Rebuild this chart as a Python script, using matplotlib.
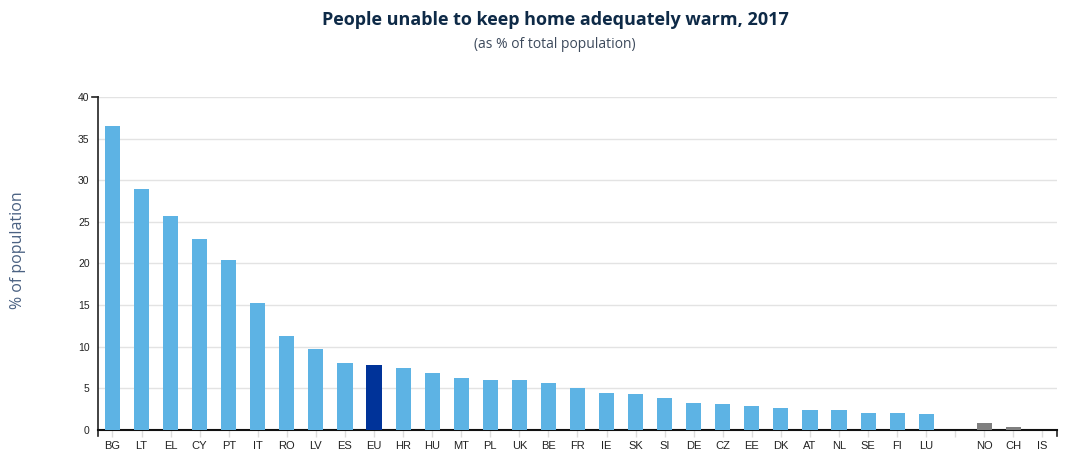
import numpy as np
import matplotlib.pyplot as plt

# countries in display order; "" marks the gap between EU members and EFTA
countries = ["BG", "LT", "EL", "CY", "PT", "IT", "RO", "LV", "ES", "EU", "HR", "HU",
             "MT", "PL", "UK", "BE", "FR", "IE", "SK", "SI", "DE", "CZ", "EE", "DK",
             "AT", "NL", "SE", "FI", "LU", "", "NO", "CH", "IS"]
values = [36.5, 28.9, 25.7, 22.9, 20.4, 15.2, 11.3, 9.7, 8.0, 7.8, 7.4, 6.8,
          6.3, 6.0, 6.0, 5.7, 5.0, 4.4, 4.3, 3.9, 3.3, 3.1, 2.9, 2.7,
          2.4, 2.4, 2.1, 2.0, 1.9, np.nan, 0.8, 0.4, np.nan]
efta = ["NO", "CH", "IS"]
y_ticks = [0, 5, 10, 15, 20, 25, 30, 35, 40]

c_member = "#5db3e4"
c_eu = "#003399"
c_efta = "#7f7f7f"

colors = []
for c in countries:
    if c == "EU":
        colors.append(c_eu)
    elif c in efta:
        colors.append(c_efta)
    else:
        colors.append(c_member)

fig = plt.figure(figsize=(10.86, 4.63), dpi=100)
ax = fig.add_axes([0.0902, 0.0713, 0.8831, 0.7192])

x = np.arange(len(countries))
ax.bar(x, values, width=0.52, color=colors, zorder=3)

ax.set_xlim(-0.5, len(countries) - 0.5)
ax.set_ylim(0, 40)
ax.set_yticks(y_ticks)
ax.set_yticklabels([str(t) for t in y_ticks], fontsize=7.5, color="#222222",
                   family="Liberation Sans")
ax.set_xticks(x)
ax.set_xticklabels(countries, fontsize=8, color="#222222", family="Liberation Sans")

ax.tick_params(axis="y", length=0, pad=6)
ax.tick_params(axis="x", length=5, color="#dddddd", width=1, pad=3)
ax.yaxis.grid(True, color="#e3e3e3", linewidth=1, zorder=0)
ax.set_axisbelow(True)

for s in ["top", "right"]:
    ax.spines[s].set_visible(False)
ax.spines["left"].set_color("#222222")
ax.spines["bottom"].set_color("#111111")
ax.spines["left"].set_linewidth(1.2)
ax.spines["bottom"].set_linewidth(1.5)
ax.spines["left"].set_bounds(0, 40)

# d3 style outer ticks at the axis ends
ytr = ax.get_yaxis_transform()
ax.plot([-0.006, 0], [40, 40], transform=ytr, color="#222222", lw=1.2, clip_on=False)
ax.plot([0, 0], [0, -0.018], transform=ax.transAxes, color="#222222", lw=1.2, clip_on=False)
ax.plot([1, 1], [0, -0.018], transform=ax.transAxes, color="#222222", lw=1.2, clip_on=False)

fig.text(0.511, 0.957, "People unable to keep home adequately warm, 2017",
         ha="center", va="center", fontsize=13, fontweight="bold",
         color="#0e2a47", family="Open Sans")
fig.text(0.511, 0.903, "(as % of total population)", ha="center", va="center",
         fontsize=10, color="#3d4a5c", family="Open Sans")
fig.text(0.017, 0.46, "% of population", rotation=90, ha="center", va="center",
         fontsize=11.5, color="#4a6182", family="Open Sans")

fig.savefig("out.png", dpi=100)
